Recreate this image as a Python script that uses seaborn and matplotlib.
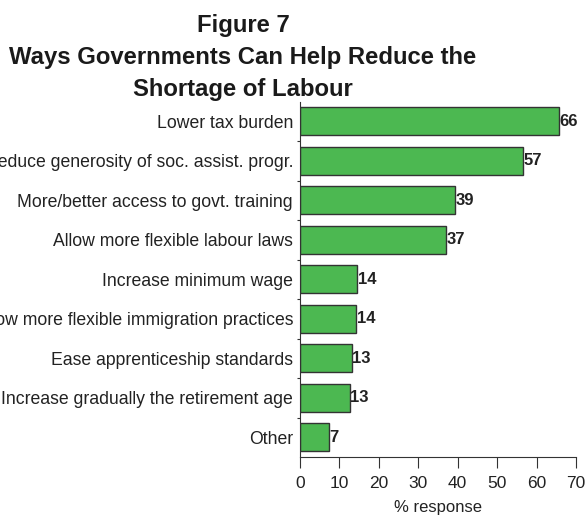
import matplotlib
matplotlib.use("Agg")
import matplotlib.pyplot as plt
from matplotlib.ticker import FixedLocator
import seaborn as sns
import pandas as pd

# Survey responses (% of respondents)
categories = [
    "Lower tax burden",
    "Reduce generosity of soc. assist. progr.",
    "More/better access to govt. training",
    "Allow more flexible labour laws",
    "Increase minimum wage",
    "Allow more flexible immigration practices",
    "Ease apprenticeship standards",
    "Increase gradually the retirement age",
    "Other",
]
values = [65.7, 56.6, 39.2, 37.0, 14.5, 14.2, 13.1, 12.6, 7.3]
x_ticks = [0, 10, 20, 30, 40, 50, 60, 70]

df = pd.DataFrame({"category": categories, "pct": values})

sns.set_theme(style="white")
plt.rcParams["font.family"] = ["Liberation Sans", "DejaVu Sans"]

fig = plt.figure(figsize=(5.85, 5.19), dpi=100)
ax = fig.add_axes([300 / 585, 1 - 457 / 519, 276 / 585, (457 - 101.7) / 519])

sns.barplot(data=df, x="pct", y="category", orient="h", color="#4cb851",
            saturation=1, width=0.71, edgecolor="#333333", linewidth=1.0, ax=ax)

for v, p in zip(values, ax.patches):
    ax.text(p.get_x() + p.get_width() + 0.15, p.get_y() + p.get_height() / 2,
            f"{v:.0f}", ha="left", va="center", fontsize=12, fontweight="bold",
            color="#222222")

ax.set_xlim(0, 70)
ax.set_xticks(x_ticks)
ax.set_xticklabels([str(t) for t in x_ticks], fontsize=12.5, color="#222222")
ax.set_xlabel("% response", fontsize=12, color="#222222", labelpad=6)
ax.set_ylabel("")
ax.tick_params(axis="y", length=0, labelsize=12.7, labelcolor="#222222", pad=5)
ax.yaxis.set_minor_locator(FixedLocator([i + 0.5 for i in range(len(categories) - 1)]))
ax.tick_params(axis="y", which="minor", length=2, width=0.8, color="#333333", direction="out", left=True)
ax.tick_params(axis="x", length=8, width=0.8, color="#333333", direction="out", bottom=True, pad=6)

for side in ["top", "right"]:
    ax.spines[side].set_visible(False)
for side in ["left", "bottom"]:
    ax.spines[side].set_color("#333333")
    ax.spines[side].set_linewidth(0.8)

fig.text(243 / 585, 1 - 14 / 519,
         "Figure 7\nWays Governments Can Help Reduce the\nShortage of Labour",
         ha="center", va="top", fontsize=17.2, fontweight="bold",
         color="#1a1a1a", linespacing=1.5)

fig.savefig("out.png", dpi=100)
